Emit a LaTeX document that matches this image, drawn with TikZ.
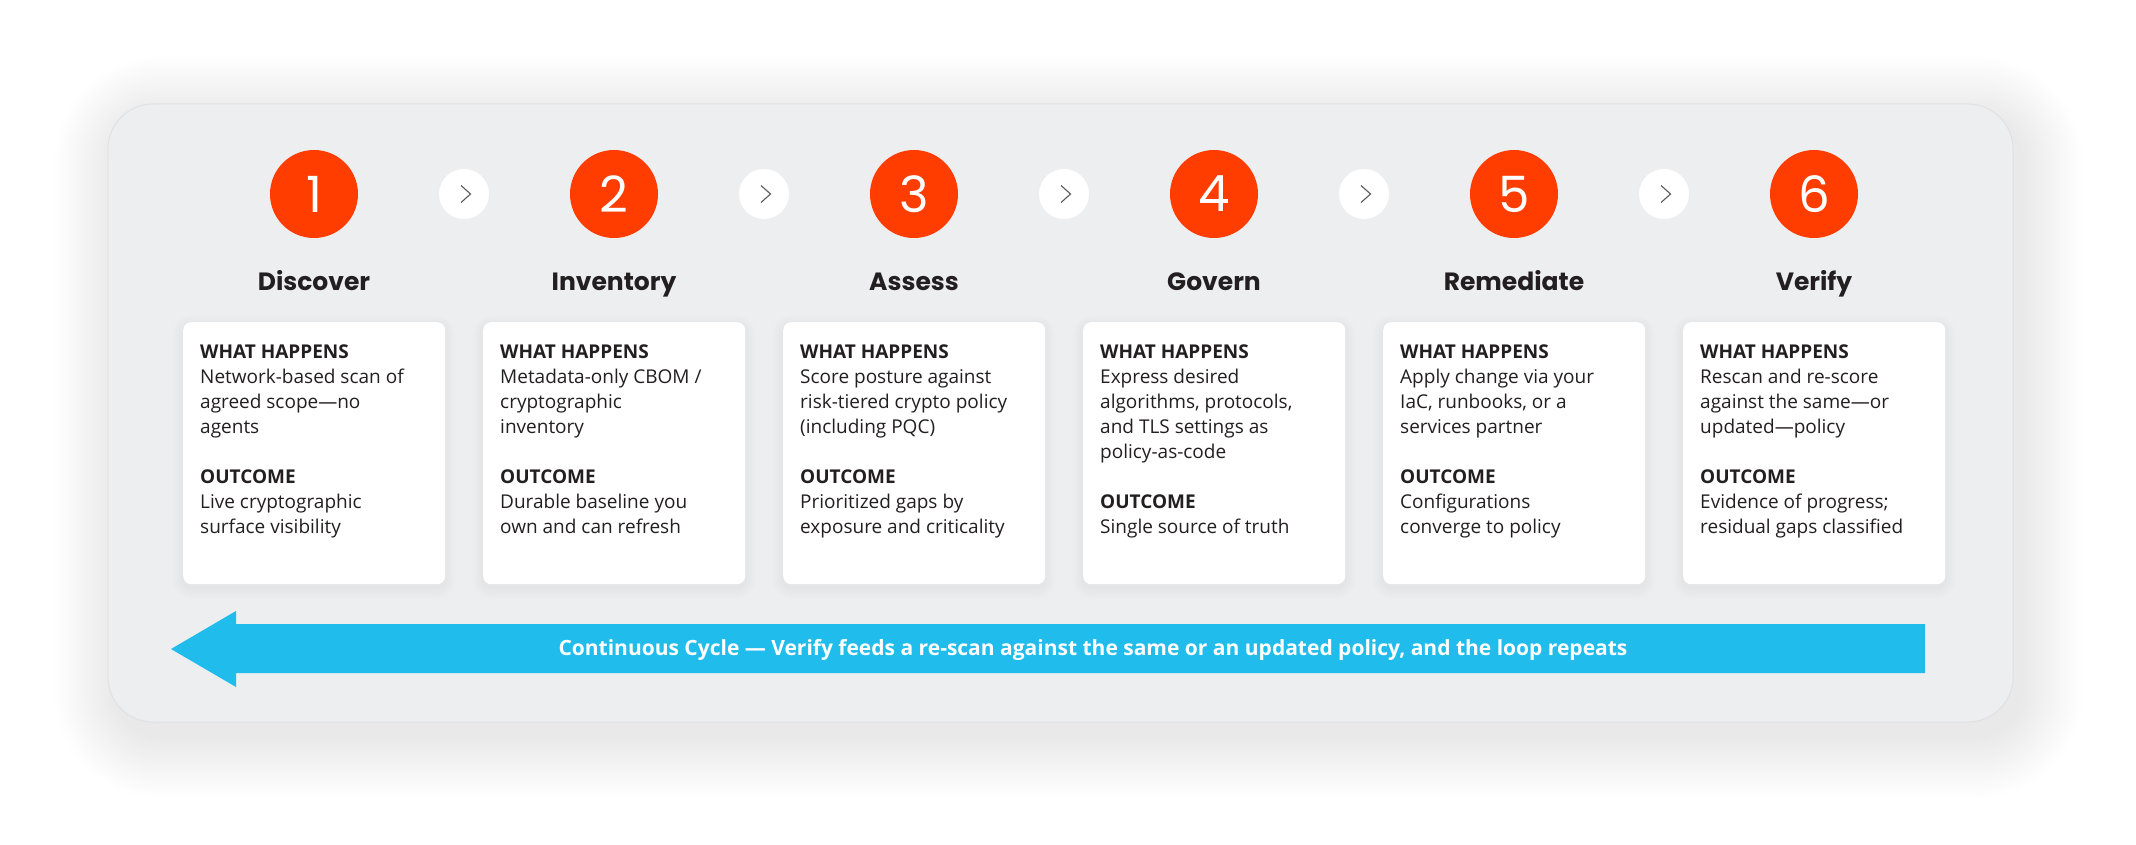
\documentclass[tikz,border=0pt]{standalone}
\usepackage{fontspec}
\setmainfont{Open Sans}
\newfontfamily\titlefont{Poppins}
\definecolor{panelgray}{HTML}{EDEEF0}
\definecolor{panelborder}{HTML}{E0E1E4}
\definecolor{stepred}{HTML}{FF3D00}
\definecolor{cyclecyan}{HTML}{1FBCEC}
\definecolor{ink}{HTML}{231F20}
\definecolor{chevgray}{HTML}{58595B}
% soft shadow: x1 y1 x2 y2 radius layers step dx dy
\newcommand\softshadow[9]{%
  \foreach \ii in {1,...,#6}{%
    \pgfmathsetmacro\ee{#7*\ii}%
    \pgfmathsetmacro\rr{#5+\ee}%
    \fill[black,opacity=0.004,rounded corners=\rr pt] ({#1-\ee+#8},{#2-\ee+#9}) rectangle ({#3+\ee+#8},{#4+\ee+#9});
  }}
\tikzset{
  stepnum/.style={circle,fill=stepred,minimum size=88pt,inner sep=0pt,text=white,font=\titlefont\fontsize{50}{50}\selectfont},
  chevcircle/.style={circle,fill=white,minimum size=50pt,inner sep=0pt},
  chevron/.style={draw=chevgray,line width=1.1pt,line join=miter},
  steptitle/.style={anchor=base,inner sep=0pt,text=ink,font=\titlefont\bfseries\fontsize{25}{29}\selectfont},
  cardbox/.style={anchor=north west,fill=white,rounded corners=8pt,minimum width=262pt,minimum height=262pt,inner sep=0pt},
  cardtext/.style={anchor=north west,inner sep=0pt,align=left,text=ink,font=\fontsize{19}{25}\selectfont},
  bannertext/.style={anchor=base,inner sep=0pt,text=white,font=\bfseries\fontsize{21}{25}\selectfont},
}
\begin{document}
\begin{tikzpicture}[x=1pt,y=-1pt]
\useasboundingbox (0,0) rectangle (2136,845);
\fill[white] (0,0) rectangle (2136,845);
% panel shadow and panel
\softshadow{108}{104}{2013}{722}{45}{22}{2.8}{8}{14}
\fill[panelgray,draw=panelborder,line width=1pt,rounded corners=45pt] (108,104) rectangle (2013,722);
% card shadows
\foreach \k in {0,...,5}{
  \pgfmathsetmacro\cx{183+300*\k}
  \pgfmathsetmacro\cxr{\cx+262}
  \softshadow{\cx}{322}{\cxr}{584}{8}{9}{1.2}{0}{4}
}
% step circles
\node[stepnum] (s1) at (314,194) {1};
\node[stepnum] (s2) at (614,194) {2};
\node[stepnum] (s3) at (914,194) {3};
\node[stepnum] (s4) at (1214,194) {4};
\node[stepnum] (s5) at (1514,194) {5};
\node[stepnum] (s6) at (1814,194) {6};
% chevron circles
\foreach \k [evaluate=\k as \xx using 464+300*(\k-1)] in {1,...,5}{
  \node[chevcircle] (c\k) at (\xx,194) {};
  \draw[chevron] (c\k.center) +(-3,-8.5) -- +(6.5,0) -- +(-3,8.5);
}
% titles
\node[steptitle] (t1) at (314,290) {Discover};
\node[steptitle] (t2) at (614,290) {Inventory};
\node[steptitle] (t3) at (914,290) {Assess};
\node[steptitle] (t4) at (1214,290) {Govern};
\node[steptitle] (t5) at (1514,290) {Remediate};
\node[steptitle] (t6) at (1814,290) {Verify};
% cards
\node[cardbox] (k1) at (183,322) {};
\node[cardbox] (k2) at (483,322) {};
\node[cardbox] (k3) at (783,322) {};
\node[cardbox] (k4) at (1083,322) {};
\node[cardbox] (k5) at (1383,322) {};
\node[cardbox] (k6) at (1683,322) {};
\node[cardtext] (w1) at ([xshift=17pt,yshift=-22.4pt]k1.north west) {\textbf{WHAT HAPPENS}\\Network-based scan of\\agreed scope—no\\agents\\[25pt]\textbf{OUTCOME}\\Live cryptographic\\surface visibility};
\node[cardtext] (w2) at ([xshift=17pt,yshift=-22.4pt]k2.north west) {\textbf{WHAT HAPPENS}\\Metadata-only CBOM /\\cryptographic\\inventory\\[25pt]\textbf{OUTCOME}\\Durable baseline you\\own and can refresh};
\node[cardtext] (w3) at ([xshift=17pt,yshift=-22.4pt]k3.north west) {\textbf{WHAT HAPPENS}\\Score posture against\\risk-tiered crypto policy\\(including PQC)\\[25pt]\textbf{OUTCOME}\\Prioritized gaps by\\exposure and criticality};
\node[cardtext] (w4) at ([xshift=17pt,yshift=-22.4pt]k4.north west) {\textbf{WHAT HAPPENS}\\Express desired\\algorithms, protocols,\\and TLS settings as\\policy-as-code\\[25pt]\textbf{OUTCOME}\\Single source of truth};
\node[cardtext] (w5) at ([xshift=17pt,yshift=-22.4pt]k5.north west) {\textbf{WHAT HAPPENS}\\Apply change via your\\IaC, runbooks, or a\\services partner\\[25pt]\textbf{OUTCOME}\\Configurations\\converge to policy};
\node[cardtext] (w6) at ([xshift=17pt,yshift=-22.4pt]k6.north west) {\textbf{WHAT HAPPENS}\\Rescan and re-score\\against the same—or\\updated—policy\\[25pt]\textbf{OUTCOME}\\Evidence of progress;\\residual gaps classified};
% continuous cycle arrow
\fill[cyclecyan] (171,649) -- (236,611) -- (236,624) -- (1925,624) -- (1925,673) -- (236,673) -- (236,687) -- cycle;
\node[bannertext] (cyc) at (1093,655) {Continuous Cycle — Verify feeds a re-scan against the same or an updated policy, and the loop repeats};
\end{tikzpicture}
\end{document}
